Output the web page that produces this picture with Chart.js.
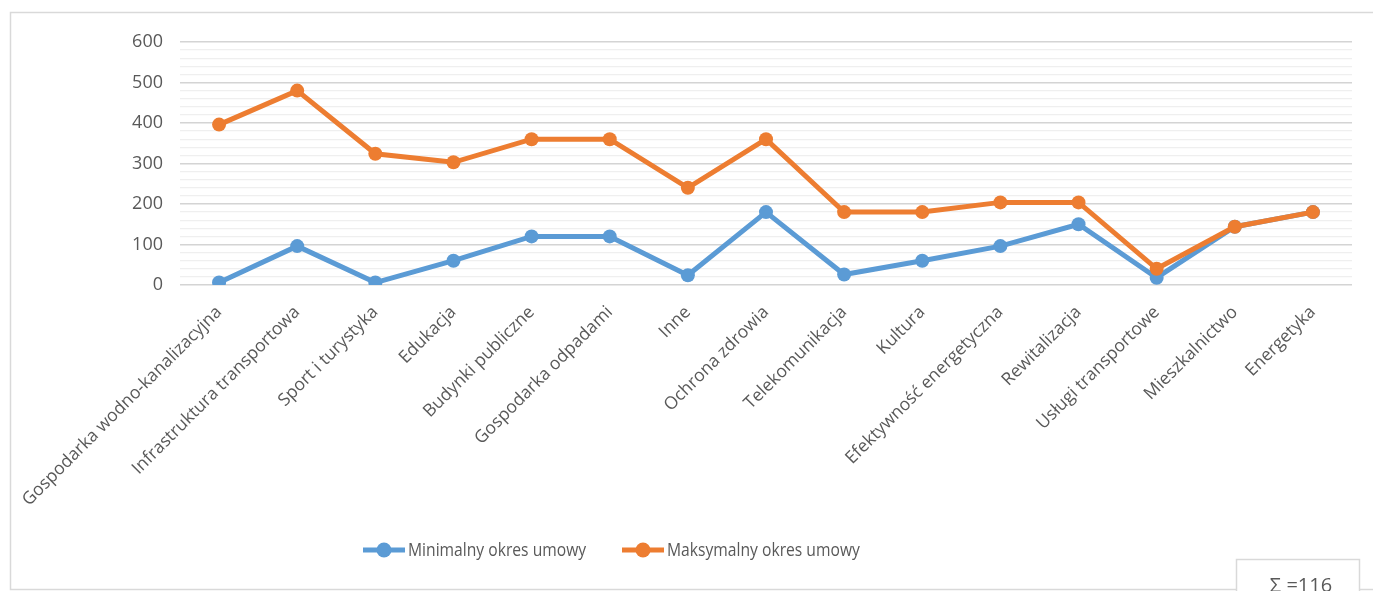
<!DOCTYPE html>
<html>
<head>
<meta charset="utf-8">
<script src="https://cdn.jsdelivr.net/npm/chart.js@4/dist/chart.umd.min.js"></script>
<style>
  html, body { margin: 0; padding: 0; background: #fff; }
</style>
</head>
<body>
<canvas id="chartOkres" width="1373" height="591"></canvas>
<script>
// geral
Chart.defaults.font.family = "'Open Sans', sans-serif";
Chart.defaults.color = '#595959';

const kategorie = [
    'Gospodarka wodno-kanalizacyjna',
    'Infrastruktura transportowa',
    'Sport i turystyka',
    'Edukacja',
    'Budynki publiczne',
    'Gospodarka odpadami',
    'Inne',
    'Ochrona zdrowia',
    'Telekomunikacja',
    'Kultura',
    'Efektywność energetyczna',
    'Rewitalizacja',
    'Usługi transportowe',
    'Mieszkalnictwo',
    'Energetyka'
];

const minimalny = [6, 96, 6, 60, 120, 120, 24, 180, 26, 60, 96, 150, 18, 144, 180];
const maksymalny = [396, 480, 324, 303, 360, 360, 240, 360, 180, 180, 204, 204, 40, 144, 180];

const nazwySerii = ['Minimalny okres umowy', 'Maksymalny okres umowy'];
const kolory = ['#5B9BD5', '#ED7D31'];
const podpisSumy = 'Σ =116';

// ramka wykresu + okienko z sumą
const ramka = {
    id: 'ramka',
    beforeDraw(chart) {
        const { ctx } = chart;
        ctx.save();
        ctx.strokeStyle = '#d9d9d9';
        ctx.lineWidth = 1.5;
        ctx.strokeRect(10.5, 12.5, 1375, 577);
        ctx.restore();
    },
    afterDraw(chart) {
        const { ctx } = chart;
        ctx.save();
        ctx.fillStyle = '#fff';
        ctx.fillRect(1236, 559, 124, 40);
        ctx.strokeStyle = '#d9d9d9';
        ctx.lineWidth = 1.5;
        ctx.strokeRect(1236.5, 559.5, 123, 40);
        ctx.fillStyle = '#595959';
        ctx.font = "20px 'Open Sans', sans-serif";
        ctx.textAlign = 'center';
        ctx.textBaseline = 'alphabetic';
        ctx.fillText(podpisSumy, 1301, 592);
        ctx.restore();
    }
};

// legenda: linia z kółkiem
const legenda = {
    id: 'legenda',
    afterDraw(chart) {
        const { ctx } = chart;
        const pozycje = [363, 622];
        const y = 550;
        ctx.save();
        ctx.font = "18px 'Open Sans', sans-serif";
        ctx.textBaseline = 'middle';
        chart.data.datasets.forEach((ds, i) => {
            const x = pozycje[i];
            ctx.strokeStyle = ds.borderColor;
            ctx.lineWidth = 5;
            ctx.beginPath();
            ctx.moveTo(x, y);
            ctx.lineTo(x + 42, y);
            ctx.stroke();
            ctx.fillStyle = ds.borderColor;
            ctx.beginPath();
            ctx.arc(x + 21, y, 7.5, 0, Math.PI * 2);
            ctx.fill();
            ctx.fillStyle = '#595959';
            ctx.save();
            ctx.translate(x + 45, y + 1);
            ctx.scale(0.87, 1);
            ctx.fillText(ds.label, 0, 0);
            ctx.restore();
        });
        ctx.restore();
    }
};

const wykres = document.getElementById('chartOkres');
new Chart(wykres, {
    type: 'line',
    data: {
        labels: kategorie,
        datasets: [
            {
                label: nazwySerii[0],
                data: minimalny,
                borderColor: kolory[0],
                backgroundColor: kolory[0],
                order: 1
            },
            {
                label: nazwySerii[1],
                data: maksymalny,
                borderColor: kolory[1],
                backgroundColor: kolory[1],
                order: 0
            }
        ]
    },
    options: {
        responsive: false,
        animation: false,
        layout: { padding: { top: 42, right: 21, bottom: 80, left: 0 } },
        elements: {
            line: { borderWidth: 5, tension: 0 },
            point: { radius: 7, borderWidth: 0, hoverRadius: 7 }
        },
        plugins: {
            legend: { display: false },
            tooltip: { enabled: false }
        },
        scales: {
            x: {
                offset: true,
                grid: { display: false },
                border: { display: false },
                ticks: {
                    autoSkip: false,
                    minRotation: 45,
                    maxRotation: 45,
                    padding: 9,
                    font: { size: 17.5 }
                },
                afterFit(scale) { scale.height = 591 - 80 - 285; }
            },
            y: {
                min: 0,
                max: 600,
                border: { display: false },
                grid: {
                    drawTicks: false,
                    color: (c) => c.tick && c.tick.value % 100 === 0 ? '#d4d4d4' : '#efefef',
                    lineWidth: (c) => c.tick && c.tick.value % 100 === 0 ? 1.6 : 1.3
                },
                ticks: {
                    stepSize: 20,
                    autoSkip: false,
                    padding: 17,
                    font: { size: 18 },
                    callback: (v) => v % 100 === 0 ? v : ''
                },
                afterFit(scale) { scale.width = 180; }
            }
        }
    },
    plugins: [ramka, legenda]
});
</script>
</body>
</html>
